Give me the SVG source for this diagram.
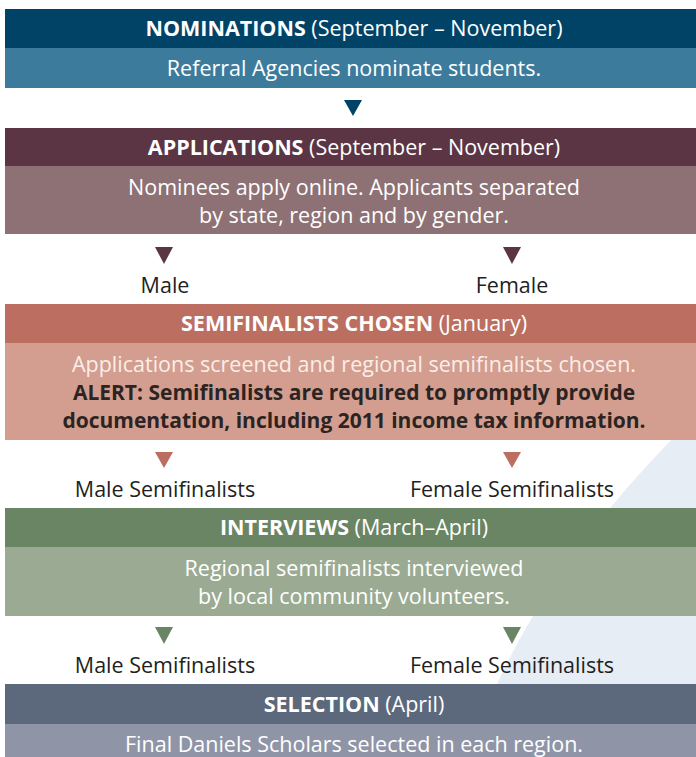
<svg xmlns="http://www.w3.org/2000/svg" width="696" height="757" viewBox="0 0 696 757">
<style>
text{font-family:"Open Sans","Noto Sans","Liberation Sans",sans-serif;font-size:21.5px;text-anchor:middle}
.t{fill:#ffffff}
.b{font-weight:bold}
.w{fill:#ffffff}
.lbl{fill:#231f20}
.alert{fill:#2b2422;font-weight:bold;font-size:21px}
</style>
<rect x="0" y="0" width="696" height="757" fill="#ffffff"/>
<path d="M696 415 Q550 558 490 700 L490 757 L696 757 Z" fill="#e6edf5"/>
<g id="nominations">
<rect x="5" y="9" width="691" height="39" fill="#014367"/>
<rect x="5" y="48" width="691" height="40" fill="#3d7b9c"/>
<text class="t" x="354" y="36"><tspan class="b">NOMINATIONS</tspan> (September – November)</text>
<text class="w" x="354" y="76">Referral Agencies nominate students.</text>
</g>
<g id="applications">
<rect x="5" y="128" width="691" height="38" fill="#5c3544"/>
<rect x="5" y="166" width="691" height="68" fill="#8e7174"/>
<text class="t" x="354" y="155"><tspan class="b">APPLICATIONS</tspan> (September – November)</text>
<text class="w" x="354" y="195">Nominees apply online. Applicants separated</text>
<text class="w" x="354" y="223">by state, region and by gender.</text>
</g>
<g id="male1"><text class="lbl" x="165" y="293">Male</text></g>
<g id="female1"><text class="lbl" x="512" y="293">Female</text></g>
<g id="semifinalists">
<rect x="5" y="304" width="691" height="39" fill="#bc6f60"/>
<rect x="5" y="343" width="691" height="97" fill="#d39e8f"/>
<text class="t" x="354" y="331"><tspan class="b">SEMIFINALISTS CHOSEN</tspan> (January)</text>
<text x="354" y="372" fill="#faeee9">Applications screened and regional semifinalists chosen.</text>
<text class="alert" x="354" y="400">ALERT: Semifinalists are required to promptly provide</text>
<text class="alert" x="354" y="428">documentation, including 2011 income tax information.</text>
</g>
<g id="male2"><text class="lbl" x="165" y="497">Male Semifinalists</text></g>
<g id="female2"><text class="lbl" x="512" y="497">Female Semifinalists</text></g>
<g id="interviews">
<rect x="5" y="508" width="691" height="39" fill="#6a8563"/>
<rect x="5" y="547" width="691" height="69" fill="#9bab93"/>
<text class="t" x="354" y="535"><tspan class="b">INTERVIEWS</tspan> (March–April)</text>
<text class="w" x="354" y="576">Regional semifinalists interviewed</text>
<text class="w" x="354" y="604">by local community volunteers.</text>
</g>
<g id="male3"><text class="lbl" x="165" y="673">Male Semifinalists</text></g>
<g id="female3"><text class="lbl" x="512" y="673">Female Semifinalists</text></g>
<g id="selection">
<rect x="5" y="684" width="691" height="40" fill="#5c687c"/>
<rect x="5" y="724" width="691" height="33" fill="#8f95a7"/>
<text class="t" x="354" y="712"><tspan class="b">SELECTION</tspan> (April)</text>
<text class="w" x="354" y="752">Final Daniels Scholars selected in each region.</text>
</g>
<g id="connectors">
<polygon points="344,100 362,100 353,116" fill="#014367"/>
<polygon points="155,247 173,247 164,264" fill="#5c3544"/>
<polygon points="503,247 521,247 512,264" fill="#5c3544"/>
<polygon points="155,452 173,452 164,468" fill="#bc6f60"/>
<polygon points="503,452 521,452 512,468" fill="#bc6f60"/>
<polygon points="155,627 173,627 164,644" fill="#6a8563"/>
<polygon points="503,627 521,627 512,644" fill="#6a8563"/>
</g>
</svg>
